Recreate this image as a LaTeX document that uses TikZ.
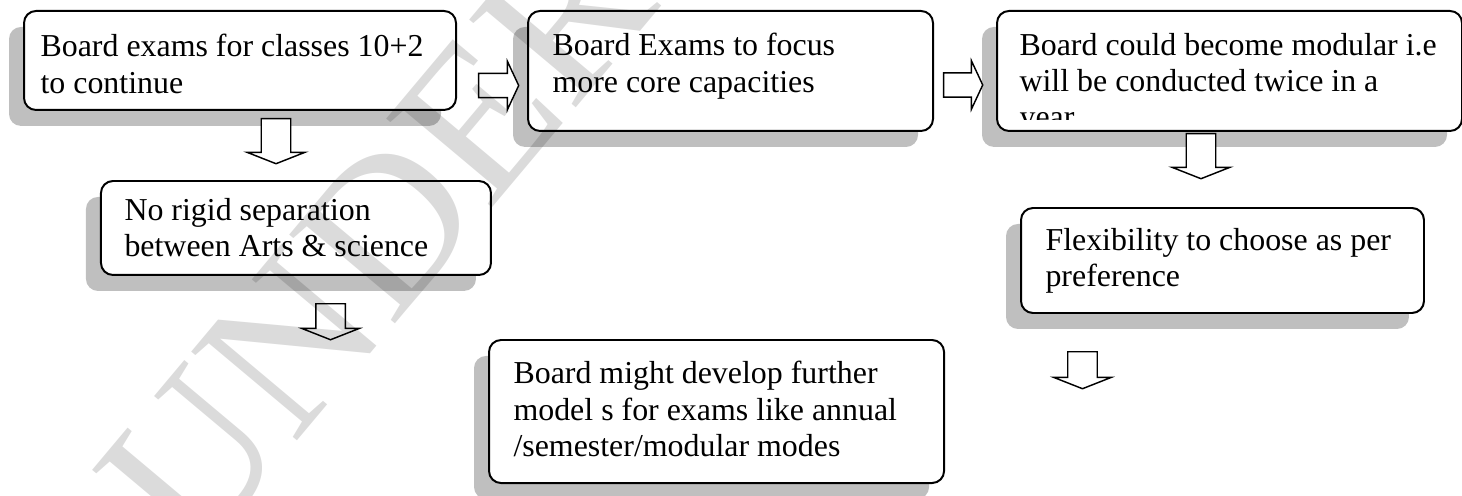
\documentclass[tikz,border=0pt]{standalone}
\usepackage{fontspec}
\setmainfont{Liberation Serif}
\usetikzlibrary{shapes.arrows,shadows}
\definecolor{shadowgray}{RGB}{191,191,191}

\begin{document}
\begin{tikzpicture}[
  card/.style={draw, line width=0.75pt, fill=white, rounded corners=0.16cm, anchor=north west, inner sep=0pt,
    drop shadow={shadow xshift=-0.2cm, shadow yshift=-0.213cm, fill=shadowgray, opacity=1}},
  cardtext/.style={anchor=north west, inner sep=0pt, align=left, font=\fontsize{12.1}{13.7}\selectfont},
  blockarrow/.style={single arrow, draw, fill=white, line width=0.55pt, inner xsep=0pt, anchor=tail},
  downarrow/.style={blockarrow, rotate=-90, inner ysep=0.187cm, single arrow head extend=0.187cm, single arrow tip angle=137},
  rightarrow/.style={blockarrow, inner ysep=0.153cm, single arrow head extend=0.16cm, single arrow tip angle=130},
  watermark/.style={anchor=base west, rotate=50, inner sep=0pt, font=\fontsize{80}{80}\selectfont, text=black, text opacity=0.14}]
\useasboundingbox (0,0) rectangle (19.493,-6.6);

% Top row
\node[card, minimum width=5.76cm, minimum height=1.32cm] (exams) at (0.307,-0.133) {};
\node[cardtext] (examsT) at ([shift={(0.227,-0.32)}]exams.north west) {Board exams for classes 10+2\\to continue};
\node[card, minimum width=5.4cm, minimum height=1.6cm] (focus) at (7.027,-0.133) {};
\node[cardtext] (focusT) at ([shift={(0.333,-0.307)}]focus.north west) {Board Exams to focus\\more core capacities};
\node[card, minimum width=6.2cm, minimum height=1.6cm] (modular) at (13.28,-0.133) {};
\begin{scope}
\clip (13.28,-0.133) rectangle (19.48,-1.587);
\node[cardtext] (modularT) at ([shift={(0.307,-0.307)}]modular.north west) {Board could become modular i.e\\will be conducted twice in a\\year};
\end{scope}

% Second and third row
\node[card, minimum width=5.2cm, minimum height=1.253cm] (rigid) at (1.333,-2.4) {};
\node[cardtext] (rigidT) at ([shift={(0.32,-0.24)}]rigid.north west) {No rigid separation\\between Arts \& science};
\node[card, minimum width=5.373cm, minimum height=1.4cm] (flex) at (13.6,-2.76) {};
\node[cardtext] (flexT) at ([shift={(0.333,-0.28)}]flex.north west) {Flexibility to choose as per\\preference};
\node[card, minimum width=6.067cm, minimum height=1.907cm] (models) at (6.507,-4.52) {};
\node[cardtext] (modelsT) at ([shift={(0.333,-0.293)}]models.north west) {Board might develop further\\model s for exams like annual\\/semester/modular modes};

% Block arrows
\node[rightarrow, minimum height=0.533cm] (arrAB) at (6.373,-1.14) {};
\node[rightarrow, minimum height=0.52cm] (arrBC) at (12.573,-1.133) {};
\foreach \nm/\x/\y/\len in {arrA/3.68/-1.573/0.6, arrC/16.013/-1.773/0.6, arrD/4.407/-4.04/0.48, arrF/14.433/-4.68/0.493}
  \node[downarrow, minimum height=\len cm] (\nm) at (\x,\y) {};

% Watermark
\node[watermark] (wm) at (2.6,-7.5) {UNDER REVIEW};
\end{tikzpicture}
\end{document}
